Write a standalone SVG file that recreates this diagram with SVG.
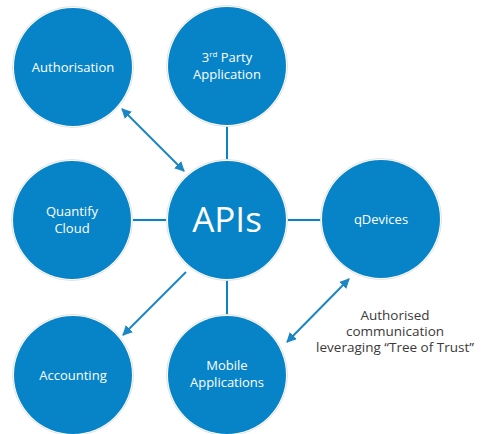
<svg xmlns="http://www.w3.org/2000/svg" width="482" height="434" viewBox="0 0 482 434">
<style>
.ring{fill:#fff;stroke:#e2e2e2;stroke-width:1}
.node{fill:#0784c7}
.t{font-family:"Open Sans","Noto Sans","Liberation Sans",sans-serif;font-size:13px;fill:#fff;text-anchor:middle}
.big{font-size:35px}
.lab{font-family:"Open Sans","Noto Sans","Liberation Sans",sans-serif;font-size:13.5px;fill:#3a3a3a;text-anchor:middle}
.ln{stroke:#0784c7;stroke-width:2;fill:none}
.ar{stroke:#1a86c4;stroke-width:2;fill:none}
</style>
<defs>
<marker id="ah" viewBox="0 0 10 10" refX="9" refY="5" markerWidth="5" markerHeight="5" orient="auto-start-reverse" markerUnits="strokeWidth">
<path d="M0,0 L10,5 L0,10 z" fill="#1a86c4"/>
</marker>
</defs>
<g id="connectors">
<line class="ln" x1="227" y1="125" x2="227" y2="163"/>
<line class="ln" x1="131" y1="220" x2="168" y2="220"/>
<line class="ln" x1="286" y1="220" x2="322" y2="220"/>
<line class="ln" x1="227" y1="279" x2="227" y2="316"/>
<line class="ar" x1="122" y1="109" x2="184" y2="171" marker-start="url(#ah)" marker-end="url(#ah)"/>
<line class="ar" x1="186" y1="272" x2="123" y2="335" marker-end="url(#ah)"/>
<line class="ar" x1="349" y1="279" x2="287" y2="342" marker-start="url(#ah)" marker-end="url(#ah)"/>
</g>
<g id="authorisation">
<circle class="ring" cx="73" cy="67" r="60.5"/><circle class="node" cx="73" cy="67" r="59"/>
<text class="t" x="73" y="72">Authorisation</text>
</g>
<g id="third-party">
<circle class="ring" cx="227" cy="66" r="60.5"/><circle class="node" cx="227" cy="66" r="59"/>
<text class="t" x="227" y="62">3<tspan font-size="8" dy="-5">rd</tspan><tspan dy="5"> Party</tspan></text>
<text class="t" x="227" y="79">Application</text>
</g>
<g id="quantify-cloud">
<circle class="ring" cx="72" cy="220" r="60.5"/><circle class="node" cx="72" cy="220" r="59"/>
<text class="t" x="72" y="216">Quantify</text>
<text class="t" x="72" y="233">Cloud</text>
</g>
<g id="apis">
<circle class="ring" cx="227" cy="220" r="60.5"/><circle class="node" cx="227" cy="220" r="59"/>
<text class="t big" x="227" y="232">APIs</text>
</g>
<g id="qdevices">
<circle class="ring" cx="381" cy="219" r="60.5"/><circle class="node" cx="381" cy="219" r="59"/>
<text class="t" x="381" y="224">qDevices</text>
</g>
<g id="accounting">
<circle class="ring" cx="73" cy="375" r="60.5"/><circle class="node" cx="73" cy="375" r="59"/>
<text class="t" x="73" y="380">Accounting</text>
</g>
<g id="mobile">
<circle class="ring" cx="227" cy="375" r="60.5"/><circle class="node" cx="227" cy="375" r="59"/>
<text class="t" x="227" y="370">Mobile</text>
<text class="t" x="227" y="387">Applications</text>
</g>
<g id="label">
<text class="lab" x="395" y="320">Authorised</text>
<text class="lab" x="395" y="336">communication</text>
<text class="lab" x="395" y="352">leveraging “Tree of Trust”</text>
</g>
</svg>
